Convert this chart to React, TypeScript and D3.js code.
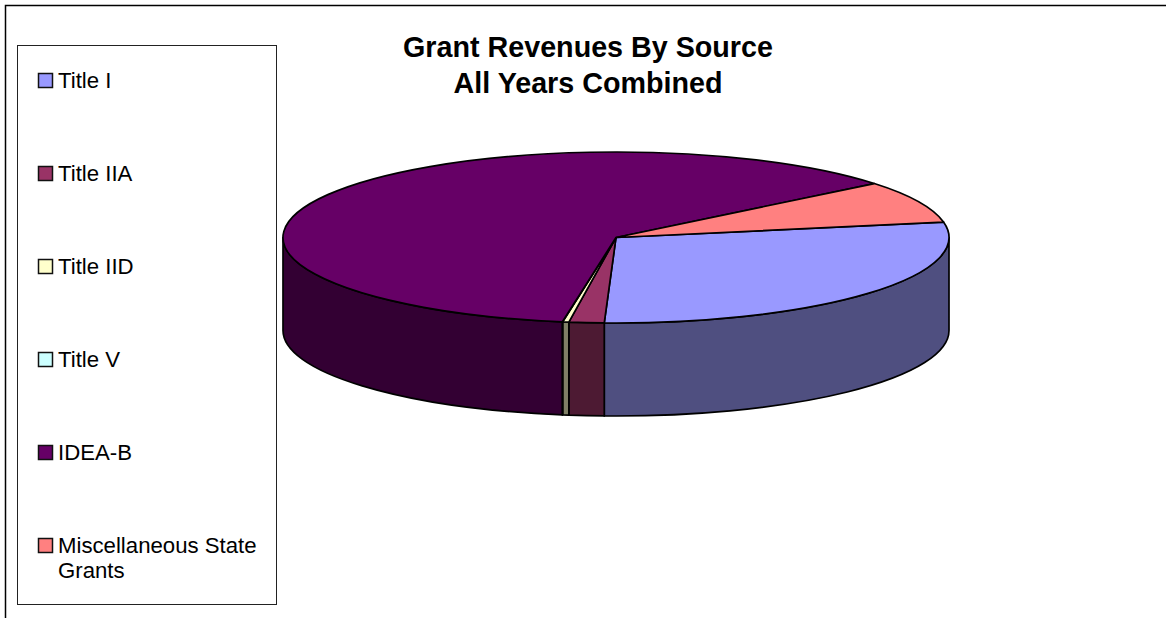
import React from "react";
import * as d3 from "d3";

const categories = ["Title I", "Title IIA", "Title IID", "Title V", "IDEA-B", "Miscellaneous State Grants"];
const values = [28.45, 1.7, 0.3, 0.02, 61.55, 7.98];
const topColors = ["#9999FF", "#993366", "#FFFFCC", "#CCFFFF", "#660066", "#FF8080"];
const sideColors = ["#4F4F80", "#4D1A33", "#808066", "#668080", "#330033", "#804040"];
const legendLines = [["Title I"], ["Title IIA"], ["Title IID"], ["Title V"], ["IDEA-B"], ["Miscellaneous State", "Grants"]];
const titleLines = ["Grant Revenues By Source", "All Years Combined"];

const FONT = "'Liberation Sans', Arial, sans-serif";
const START_DEG = -10.4;

const cx = 616, cy = 237.5, rx = 333, ry = 85.5, depth = 93;
const px = d3.scaleLinear().domain([-1, 1]).range([cx - rx, cx + rx]);
const py = d3.scaleLinear().domain([-1, 1]).range([cy - ry, cy + ry]);

const startA = (START_DEG * Math.PI) / 180;
const slices = d3
  .pie<number>()
  .sort(null)
  .startAngle(startA)
  .endAngle(startA + 2 * Math.PI)(values);

const X = (a: number) => px(Math.cos(a));
const Y = (a: number) => py(Math.sin(a));

function topPath(a0: number, a1: number) {
  const large = a1 - a0 > Math.PI ? 1 : 0;
  return `M${cx},${cy}L${X(a0)},${Y(a0)}A${rx},${ry} 0 ${large} 1 ${X(a1)},${Y(a1)}Z`;
}

function sidePath(a0: number, a1: number) {
  const s = Math.max(a0, 0);
  const e = Math.min(a1, Math.PI);
  if (e <= s) return null;
  return `M${X(s)},${Y(s)}A${rx},${ry} 0 0 1 ${X(e)},${Y(e)}L${X(e)},${Y(e) + depth}A${rx},${ry} 0 0 0 ${X(s)},${Y(s) + depth}Z`;
}

const legendY = d3
  .scalePoint<string>()
  .domain(categories)
  .range([81, 546]);

export default function App() {
  return (
    <svg
      width={1166}
      height={618}
      style={{ position: "absolute", left: 0, top: 0, background: "#fff" }}
      fontFamily={FONT}
    >
      <path d="M5.5,618V5.5H1166" fill="none" stroke="#000" strokeWidth={1.5} />
      <rect x={17.5} y={45.5} width={259} height={559} fill="#fff" stroke="#222" strokeWidth={1} />

      {titleLines.map((t, i) => (
        <text key={t} x={588} y={57 + i * 36} textAnchor="middle" fontSize={28.7} fontWeight="bold" fill="#000">
          {t}
        </text>
      ))}

      {slices.map((s, i) => {
        const d = sidePath(s.startAngle, s.endAngle);
        return d ? <path key={i} d={d} fill={sideColors[i]} stroke="#000" strokeWidth={1.7} strokeLinejoin="round" /> : null;
      })}
      {slices.map((s, i) => (
        <path key={i} d={topPath(s.startAngle, s.endAngle)} fill={topColors[i]} stroke="#000" strokeWidth={1.7} strokeLinejoin="round" />
      ))}

      {categories.map((c, i) => {
        const y = legendY(c)!;
        return (
          <g key={c}>
            <rect x={38.5} y={y - 7.5} width={14} height={14} fill={topColors[i]} stroke="#111" strokeWidth={1.5} />
            {legendLines[i].map((l, j) => (
              <text key={l} x={58} y={y + 7 + j * 25} fontSize={22.2} fill="#000">
                {l}
              </text>
            ))}
          </g>
        );
      })}
    </svg>
  );
}
